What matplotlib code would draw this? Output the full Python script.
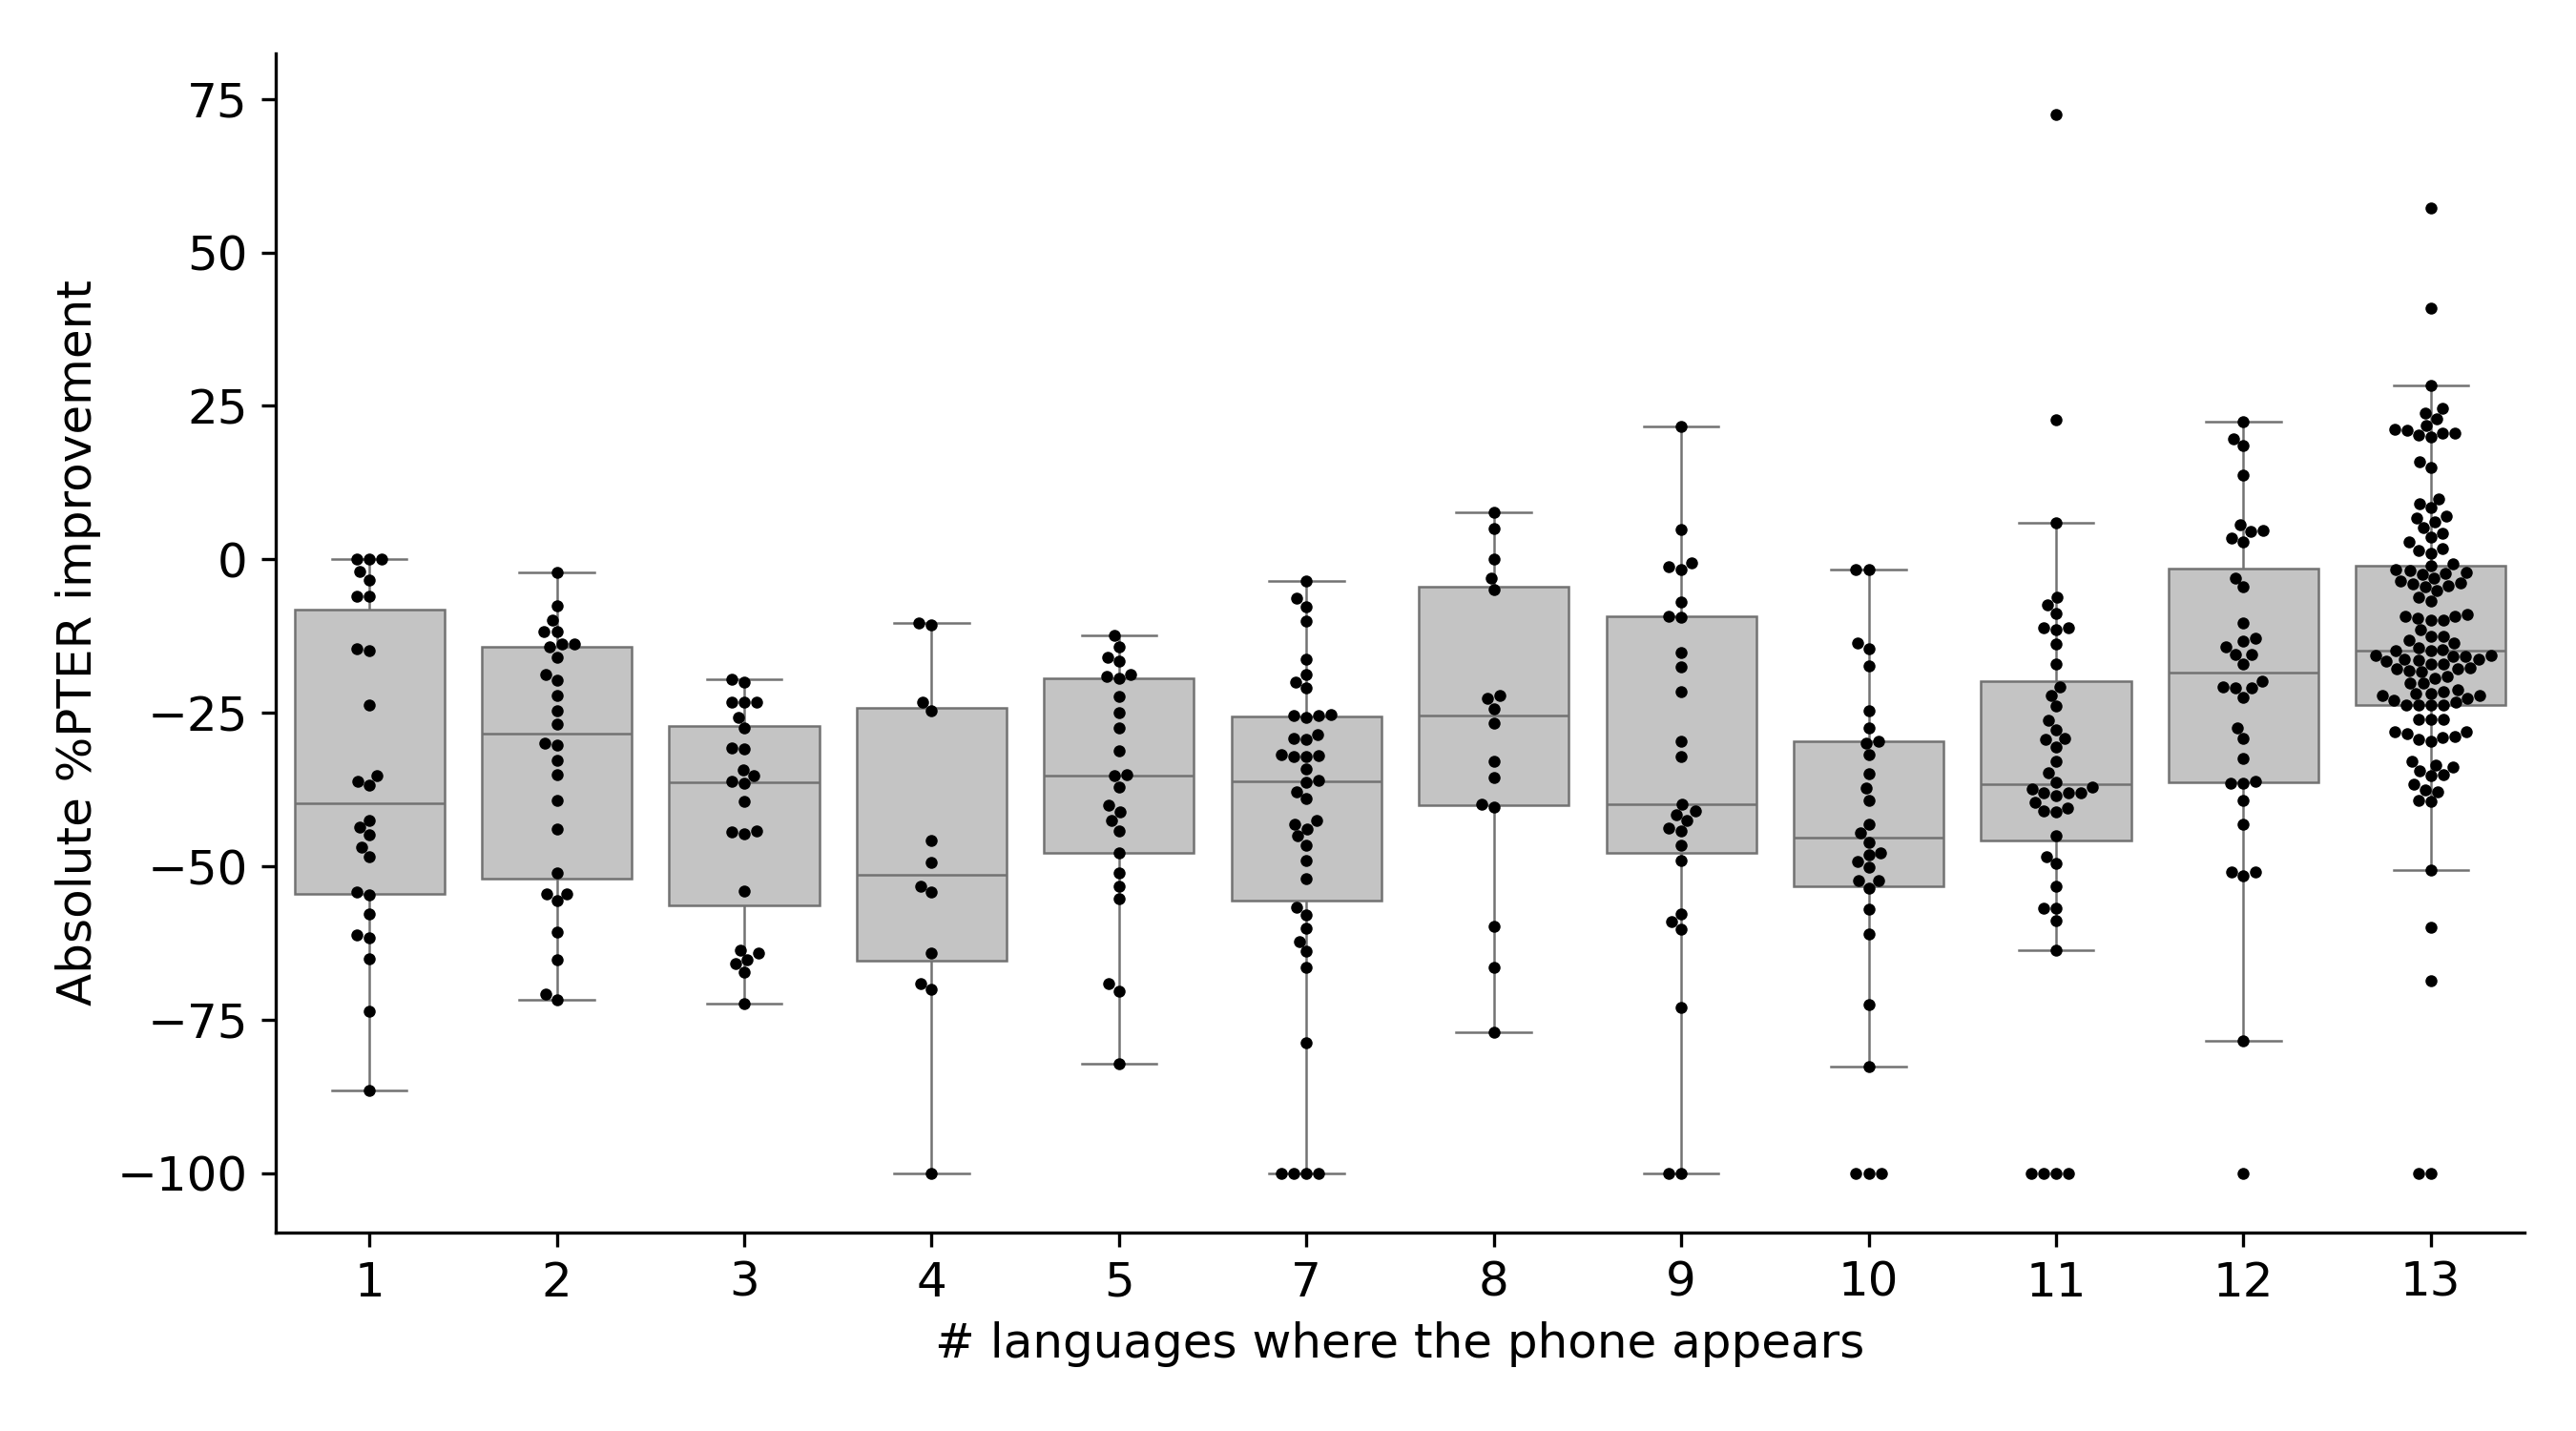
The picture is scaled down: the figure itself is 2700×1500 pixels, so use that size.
import matplotlib
matplotlib.use("Agg")
import matplotlib.pyplot as plt
import pandas as pd
import seaborn as sns

# number of languages each phone appears in (x categories)
categories = ["1", "2", "3", "4", "5", "7", "8", "9", "10", "11", "12", "13"]

# absolute %PTER improvement per phone, one list per category
g1 = [0, 0, 0, -2.0, -3.3, -6.0, -6.0, -14.5, -14.8, -23.8, -35.2, -36.1, -36.8,
      -42.6, -43.7, -44.9, -46.9, -48.4, -54.2, -54.6, -57.7, -61.2, -61.6, -65.1,
      -73.6, -86.5]
g2 = [-2.1, -7.5, -9.9, -11.7, -11.7, -13.8, -13.8, -14.3, -15.9, -18.7, -19.7,
      -22.1, -24.6, -26.9, -30.0, -30.3, -32.8, -35.0, -39.3, -43.9, -51.1, -54.5,
      -54.5, -55.6, -60.7, -65.2, -70.8, -71.8]
g3 = [-19.5, -20.0, -23.3, -23.3, -23.3, -25.8, -27.5, -30.7, -30.9, -34.3, -35.3,
      -36.1, -36.5, -39.5, -44.4, -44.7, -44.3, -54.0, -63.6, -64.2, -65.2, -65.8,
      -67.2, -72.3]
g4 = [-10.4, -10.7, -23.2, -24.6, -45.8, -49.4, -53.3, -54.2, -64.2, -69.1, -70.1,
      -100]
g5 = [-12.4, -14.2, -15.9, -16.6, -19.1, -19.4, -18.7, -22.3, -24.9, -27.4, -31.2,
      -35.3, -35.0, -37.1, -40.1, -41.1, -42.6, -44.2, -47.8, -51.1, -53.2, -55.3,
      -69.1, -70.3, -82.2]
g7 = [-3.5, -6.4, -7.7, -10.1, -16.2, -18.8, -20.0, -21.0, -25.3, -25.5, -25.4,
      -25.7, -28.6, -29.1, -29.4, -31.8, -32.2, -32.2, -31.9, -34.2, -36.0, -36.3,
      -37.8, -39.0, -42.6, -43.2, -43.9, -45.1, -46.5, -49.1, -52.0, -56.7, -57.9,
      -60.1, -62.3, -63.9, -66.5, -78.8, -100, -100, -100, -100]
g8 = [7.7, 5.1, 0.0, -3.1, -5.0, -22.1, -22.6, -24.3, -26.7, -32.9, -35.6, -39.9,
      -40.3, -59.8, -66.5, -77.1]
g9 = [21.6, 4.8, -0.6, -1.2, -1.7, -7.0, -9.3, -9.4, -15.2, -17.5, -21.5, -29.6,
      -32.1, -39.9, -41.0, -41.6, -42.5, -43.8, -44.2, -46.6, -49.0, -57.7, -59.0,
      -60.2, -73.0, -100, -100]
g10 = [-1.7, -1.7, -13.6, -14.5, -17.3, -24.7, -27.5, -29.9, -29.6, -31.8, -34.9,
       -37.3, -39.2, -43.2, -44.6, -46.1, -47.8, -48.1, -49.2, -50.1, -52.3, -52.4,
       -53.5, -57.0, -61.1, -72.5, -82.7, -100, -100, -100]
g11 = [72.5, 22.7, 6.0, -6.1, -7.4, -8.8, -11.2, -11.5, -11.1, -13.8, -17.1, -20.7,
       -22.1, -23.9, -26.2, -27.7, -29.4, -29.1, -30.5, -32.9, -34.8, -36.3, -37.4,
       -38.1, -38.5, -38.1, -38.0, -37.1, -39.6, -41.0, -41.2, -40.5, -45.0, -48.4,
       -49.6, -53.2, -56.8, -56.9, -58.9, -63.7, -100, -100, -100, -100]
g12 = [22.5, 19.7, 18.6, 13.8, 5.7, 4.5, 4.7, 3.5, 2.9, -3.0, -4.5, -10.4, -12.9,
       -13.3, -14.3, -15.5, -15.5, -17.0, -19.9, -21.0, -21.0, -20.7, -22.5, -27.5,
       -29.2, -32.5, -36.4, -36.5, -36.2, -39.2, -43.1, -51.0, -51.6, -50.9, -78.4,
       -100]
g13 = [57.2, 41.0, 28.4, 24.6, 23.9, 22.9, 21.8, 21.0, 20.2, 20.0, 20.6, 20.6, 21.2,
       15.9, 15.0, 9.9, 9.1, 8.4, 7.0, 6.8, 6.1, 5.2, 4.3, 3.6, 2.8, 1.8, 1.5, 1.0,
       -0.8, -1.0, -1.7, -1.8, -2.3, -2.4, -2.2, -3.5, -4.0, -4.3, -3.1, -4.5, -3.9,
       -5.1, -6.2, -6.8, -9.2, -9.6, -9.9, -9.9, -9.2, -9.0,
       -11.5, -12.6, -12.5, -13.2, -13.7, -14.4, -14.7, -14.8, -14.8, -15.8, -15.7,
       -15.8, -16.3, -16.3, -15.7, -16.4, -16.6, -17.0, -17.0, -17.8, -17.9, -17.7,
       -18.1, -18.3, -19.0, -19.4, -20.1, -20.2, -21.3, -21.5, -21.8, -21.8, -22.1,
       -22.2, -22.7, -23.0, -23.2, -23.7, -23.8, -23.7, -23.7, -26.1, -26.1, -26.0,
       -28.1, -28.4, -29.0, -28.9, -28.1, -29.3, -29.6, -32.9, -33.5, -33.8, -34.4,
       -35.1, -35.3, -36.7, -37.5, -37.9, -39.2, -39.5, -50.6, -60.0, -68.6, -100,
       -100]

groups = [g1, g2, g3, g4, g5, g7, g8, g9, g10, g11, g12, g13]

rows = []
for cat, vals in zip(categories, groups):
    for v in vals:
        rows.append((cat, v))
df = pd.DataFrame(rows, columns=["n_lang", "improvement"])

plt.rcParams["font.family"] = ["DejaVu Sans"]
plt.rcParams["font.size"] = 12

fig, ax = plt.subplots(figsize=(9, 5), dpi=300)
fig.subplots_adjust(left=0.107, right=0.98, top=0.963, bottom=0.139)

sns.boxplot(data=df, x="n_lang", y="improvement", order=categories, ax=ax,
            color="#c4c4c4", linecolor="#727272", linewidth=0.6,
            showfliers=False, saturation=1, width=0.8)
sns.swarmplot(data=df, x="n_lang", y="improvement", order=categories, ax=ax,
              color="black", size=3)

ax.set_xlabel("# languages where the phone appears")
ax.set_ylabel("Absolute %PTER improvement")
ax.set_yticks([75, 50, 25, 0, -25, -50, -75, -100])
ax.set_ylim(-109.6, 82.5)
sns.despine(ax=ax)

fig.savefig("out.png", dpi=300)
